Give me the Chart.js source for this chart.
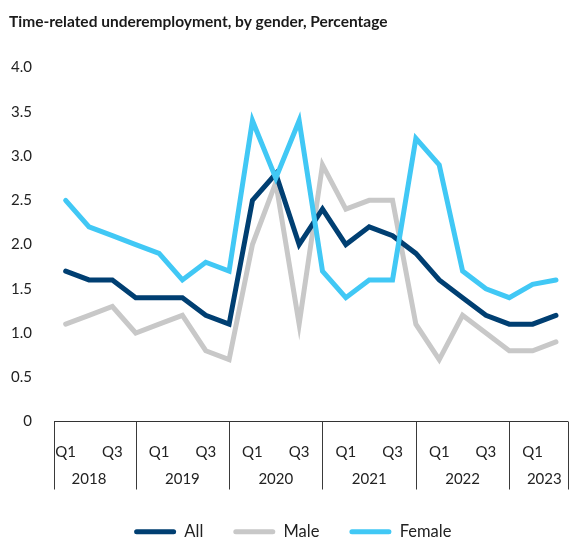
<!DOCTYPE html>
<html lang="en">
<head>
<meta charset="UTF-8">
<title>Time-related underemployment</title>
<script src="https://cdn.jsdelivr.net/npm/chart.js"></script>
<style>
  html, body { margin: 0; padding: 0; background: #fff; }
  #wrap { width: 578px; height: 540px; }
</style>
</head>
<body>
<div id="wrap"><canvas id="chart"></canvas></div>
<script>
// data
const years = ['2018', '2019', '2020', '2021', '2022', '2023'];
const quarters = ['Q1', 'Q2', 'Q3', 'Q4'];
const shownQuarters = ['Q1', 'Q3'];
const yTicks = [0, 0.5, 1.0, 1.5, 2.0, 2.5, 3.0, 3.5, 4.0];

const allValues    = [1.7, 1.6, 1.6, 1.4, 1.4, 1.4, 1.2, 1.1, 2.5, 2.8, 2.0, 2.4, 2.0, 2.2, 2.1, 1.9, 1.6, 1.4, 1.2, 1.1, 1.1, 1.2];
const maleValues   = [1.1, 1.2, 1.3, 1.0, 1.1, 1.2, 0.8, 0.7, 2.0, 2.7, 1.1, 2.9, 2.4, 2.5, 2.5, 1.1, 0.7, 1.2, 1.0, 0.8, 0.8, 0.9];
const femaleValues = [2.5, 2.2, 2.1, 2.0, 1.9, 1.6, 1.8, 1.7, 3.4, 2.75, 3.4, 1.7, 1.4, 1.6, 1.6, 3.2, 2.9, 1.7, 1.5, 1.4, 1.55, 1.6];

const n = allValues.length;
const periods = years.flatMap(y => quarters.map(q => ({ year: y, q: q }))).slice(0, n);

const FONT = 'Lato, "Noto Sans", sans-serif';

// separators between years + year labels under the quarter ticks
const yearAxis = {
  id: 'yearAxis',
  afterDraw(chart) {
    const ctx = chart.ctx;
    const area = chart.chartArea;
    const x = chart.scales.x;
    ctx.save();
    ctx.strokeStyle = '#3a3a3a';
    ctx.lineWidth = 1;
    const bounds = [area.left];
    periods.forEach((p, i) => {
      if (p.q === 'Q4' && i < n - 1) bounds.push(x.getPixelForValue(i));
    });
    bounds.push(area.right);
    bounds.forEach(px => {
      const xx = Math.round(px) + 0.5;
      ctx.beginPath();
      ctx.moveTo(xx, area.bottom);
      ctx.lineTo(xx, area.bottom + 68);
      ctx.stroke();
    });

    ctx.fillStyle = '#222';
    ctx.font = '15px ' + FONT;
    ctx.textAlign = 'center';
    ctx.textBaseline = 'middle';
    years.forEach((yr, k) => {
      const first = k * 4;
      if (first >= n) return;
      const last = Math.min(first + 2, n - 1);
      const cx = (x.getPixelForValue(first) + x.getPixelForValue(last)) / 2;
      ctx.fillText(yr, cx, area.bottom + 58);
    });
    ctx.restore();
  }
};

const ctx = document.getElementById('chart').getContext('2d');
new Chart(ctx, {
  type: 'line',
  data: {
    labels: periods.map(p => p.year + ' ' + p.q),
    datasets: [
      { label: 'All', data: allValues, borderColor: '#003f72', backgroundColor: '#003f72', order: 1 },
      { label: 'Male', data: maleValues, borderColor: '#c8c8c8', backgroundColor: '#c8c8c8', order: 2 },
      { label: 'Female', data: femaleValues, borderColor: '#41c8f5', backgroundColor: '#41c8f5', order: 0 }
    ]
  },
  options: {
    responsive: true,
    maintainAspectRatio: false,
    animation: false,
    layout: { padding: { left: 9, right: 1.5, top: 0, bottom: -10 } },
    elements: {
      line: { borderWidth: 5, tension: 0, fill: false, borderCapStyle: 'round' },
      point: { radius: 0, hoverRadius: 0 }
    },
    scales: {
      x: {
        offset: true,
        grid: { display: true, drawOnChartArea: false, drawTicks: false },
        border: { display: true, color: '#333', width: 1 },
        ticks: {
          autoSkip: false,
          maxRotation: 0,
          padding: 22,
          color: '#222',
          font: { family: FONT, size: 15 },
          callback: (v, i) => shownQuarters.includes(periods[i].q) ? periods[i].q : ''
        },
        afterFit: s => { s.height = 72; }
      },
      y: {
        min: 0,
        max: 4,
        grid: { display: false, drawTicks: false },
        border: { display: false },
        afterBuildTicks: s => { s.ticks = yTicks.map(v => ({ value: v })); },
        ticks: {
          padding: 22,
          color: '#222',
          font: { family: FONT, size: 15 },
          callback: v => v === 0 ? '0' : v.toFixed(1)
        },
        afterFit: s => { s.width = 45; }
      }
    },
    plugins: {
      title: {
        display: true,
        text: 'Time-related underemployment, by gender, Percentage',
        align: 'start',
        color: '#1a1a1a',
        font: { family: FONT, size: 15.5, weight: 'bold' },
        padding: { top: 13, bottom: 36 }
      },
      legend: {
        position: 'bottom',
        labels: {
          boxWidth: 42,
          boxHeight: 5,
          padding: 30,
          color: '#222',
          font: { family: FONT, size: 16.5 },
          useBorderRadius: true,
          borderRadius: 2.5,
          sort: (a, b) => a.datasetIndex - b.datasetIndex,
          generateLabels: chart => Chart.defaults.plugins.legend.labels.generateLabels(chart)
            .map(item => Object.assign(item, { lineWidth: 0 }))
        }
      },
      tooltip: { enabled: false }
    }
  },
  plugins: [yearAxis]
});
</script>
</body>
</html>
